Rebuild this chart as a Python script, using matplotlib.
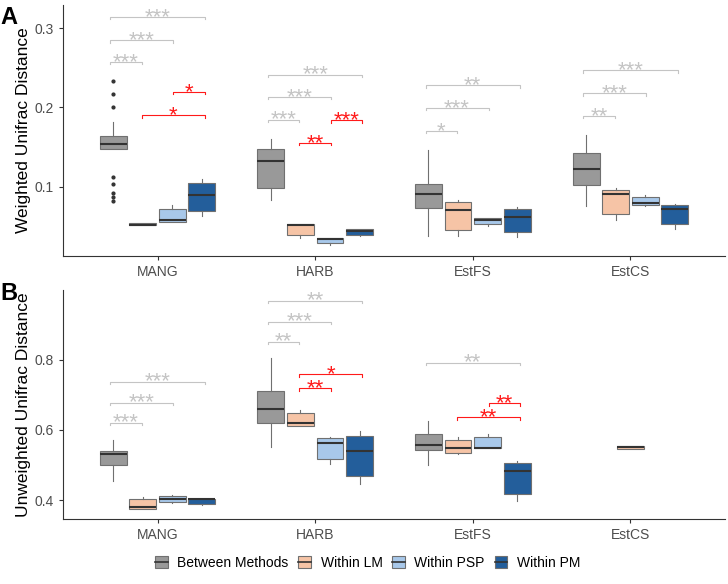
import numpy as np
import matplotlib.pyplot as plt
from matplotlib.patches import Patch
from matplotlib.lines import Line2D

plt.rcParams['font.family'] = ['Liberation Sans', 'DejaVu Sans']

sites = ['MANG', 'HARB', 'EstFS', 'EstCS']
groups = ['Between Methods', 'Within LM', 'Within PSP', 'Within PM']
fills = ['#999999', '#F6C4A6', '#A8C8EA', '#235E9B']

# panel A: weighted unifrac, rows = site, cols = group
a_q1 = [[.1478, .0518, .0560, .0698], [.0983, .0396, .0291, .0396],
        [.0736, .0459, .0535, .0430], [.1025, .0660, .0769, .0530]]
a_med = [[.1541, .0526, .0589, .0895], [.1323, .0522, .0346, .0450],
         [.0908, .0711, .0581, .0623], [.1226, .0908, .0794, .0723]]
a_q3 = [[.1646, .0547, .0723, .1055], [.1482, .0535, .0354, .0467],
        [.1033, .0811, .0610, .0723], [.1428, .0962, .0874, .0774]]
a_lo = [[.1478, .0515, .0555, .0631], [.0841, .0358, .0275, .0380],
        [.0380, .0380, .0514, .0367], [.0757, .0585, .0765, .0472]]
a_hi = [[.1820, .0550, .0769, .1100], [.1608, .0535, .0354, .0467],
        [.1470, .0836, .0610, .0748], [.1658, .0983, .0895, .0786]]
a_out = {(0, 0): [.2333, .2170, .2006, .1130, .1034, .0928, .0870, .0828]}

# panel B: unweighted unifrac (None = no data)
b_q1 = [[.5007, .3743, .3943, .3886], [.6195, .6128, .5169, .4675],
        [.5425, .5330, .5482, .4180], [None, .5463, None, None]]
b_med = [[.5320, .3810, .4038, .4029], [.6603, .6195, .5615, .5387],
         [.5577, .5473, .5492, .4827], [None, .5511, None, None]]
b_q3 = [[.5397, .4029, .4124, .4029], [.7116, .6480, .5777, .5834],
        [.5881, .5710, .5796, .5055], [None, .5549, None, None]]
b_lo = [[.4542, .3743, .3914, .3848], [.5501, .6128, .5026, .4456],
        [.5007, .5302, .5482, .3971], [None, .5463, None, None]]
b_hi = [[.5720, .4086, .4143, .4029], [.8057, .6565, .5805, .5976],
        [.6271, .5796, .5891, .5121], [None, .5549, None, None]]
b_out = {}

# significance brackets: (site, group1, group2, y, label, colour)
GR, RD = '#C4C4C4', '#FF1A1A'
a_sig = [(0, 0, 1, .2572, '***', GR), (0, 0, 2, .2845, '***', GR), (0, 0, 3, .3138, '***', GR),
         (0, 2, 3, .2195, '*', RD), (0, 1, 3, .1901, '*', RD),
         (1, 0, 1, .1847, '***', GR), (1, 0, 2, .2132, '***', GR), (1, 0, 3, .2413, '***', GR),
         (1, 1, 2, .1553, '**', RD), (1, 2, 3, .1839, '***', RD),
         (2, 0, 1, .1704, '*', GR), (2, 0, 2, .1994, '***', GR), (2, 0, 3, .2279, '**', GR),
         (3, 0, 1, .1893, '**', GR), (3, 0, 2, .2178, '***', GR), (3, 0, 3, .2467, '***', GR)]
b_sig = [(0, 0, 1, .6214, '***', GR), (0, 0, 2, .6784, '***', GR), (0, 0, 3, .7382, '***', GR),
         (1, 0, 1, .8523, '**', GR), (1, 0, 2, .9093, '***', GR), (1, 0, 3, .9691, '**', GR),
         (1, 1, 2, .7192, '**', RD), (1, 1, 3, .7591, '*', RD),
         (2, 0, 3, .7924, '**', GR), (2, 1, 3, .6366, '**', RD), (2, 2, 3, .6765, '**', RD)]

box_off = [-0.28125, -0.09375, 0.09375, 0.28125]
sig_off = [-0.3, -0.1, 0.1, 0.3]

fig = plt.figure(figsize=(7.28, 5.84), dpi=100)
axA = fig.add_axes([0.0865, 0.5616, 0.9094, 0.4298])
axB = fig.add_axes([0.0865, 0.1113, 0.9094, 0.3921])


def draw(ax, q1, med, q3, lo, hi, outs, sig, ylim, yticks, ylabel, tip):
    for s in range(4):
        present = [g for g in range(4) if med[s][g] is not None]
        for g in present:
            pos = s + 1 + (box_off[g] if len(present) > 1 else 0)
            st = dict(med=med[s][g], q1=q1[s][g], q3=q3[s][g],
                      whislo=lo[s][g], whishi=hi[s][g], fliers=outs.get((s, g), []))
            ax.bxp([st], positions=[pos], widths=0.17, patch_artist=True,
                   showcaps=False,
                   boxprops=dict(facecolor=fills[g], edgecolor='#707070', lw=0.8),
                   medianprops=dict(color='#333333', lw=1.5),
                   whiskerprops=dict(color='#707070', lw=0.8),
                   flierprops=dict(marker='o', markersize=2.0, markerfacecolor='#333333',
                                   markeredgecolor='#333333'))
    for s, g1, g2, y, lab, c in sig:
        x1 = s + 1 + sig_off[g1]
        x2 = s + 1 + sig_off[g2]
        ax.plot([x1, x1, x2, x2], [y - tip, y, y, y - tip], color=c, lw=0.8)
        ax.annotate(lab, ((x1 + x2) / 2, y), xytext=(0, -4.2), textcoords='offset points',
                    ha='center', va='baseline', color=c, fontsize=16)
    ax.set_xlim(0.4, 4.6)
    ax.set_ylim(*ylim)
    ax.set_xticks(range(1, 5))
    ax.set_xticklabels(sites)
    ax.set_yticks(yticks)
    ax.set_yticklabels([f'{t:.1f}' for t in yticks])
    ax.set_ylabel(ylabel, fontsize=12.5)
    ax.yaxis.set_label_coords(-0.048, 0.5)
    for sp in ['top', 'right']:
        ax.spines[sp].set_visible(False)
    for sp in ['left', 'bottom']:
        ax.spines[sp].set_color('#333333')
        ax.spines[sp].set_linewidth(0.8)
    ax.tick_params(colors='#333333', labelcolor='#4D4D4D', labelsize=10, length=3, width=0.8)


draw(axA, a_q1, a_med, a_q3, a_lo, a_hi, a_out, a_sig, (0.013, 0.329), [0.1, 0.2, 0.3],
     'Weighted Unifrac Distance', 0.003)
draw(axB, b_q1, b_med, b_q3, b_lo, b_hi, b_out, b_sig, (0.346, 0.9995), [0.4, 0.6, 0.8],
     'Unweighted Unifrac Distance', 0.007)

fig.text(0.001, 0.99, 'A', fontsize=17, fontweight='bold', va='top')
fig.text(0.001, 0.517, 'B', fontsize=17, fontweight='bold', va='top')

handles = [(Patch(facecolor=f, edgecolor='#707070', lw=0.8),
            Line2D([], [], color='#333333', lw=1.2)) for f in fills]
fig.legend(handles, groups, loc='center', bbox_to_anchor=(0.505, 0.036), ncol=4,
           frameon=False, fontsize=10, handlelength=0.9, handleheight=0.9,
           handletextpad=0.7, columnspacing=0.7)

fig.savefig('out.png', dpi=100)
